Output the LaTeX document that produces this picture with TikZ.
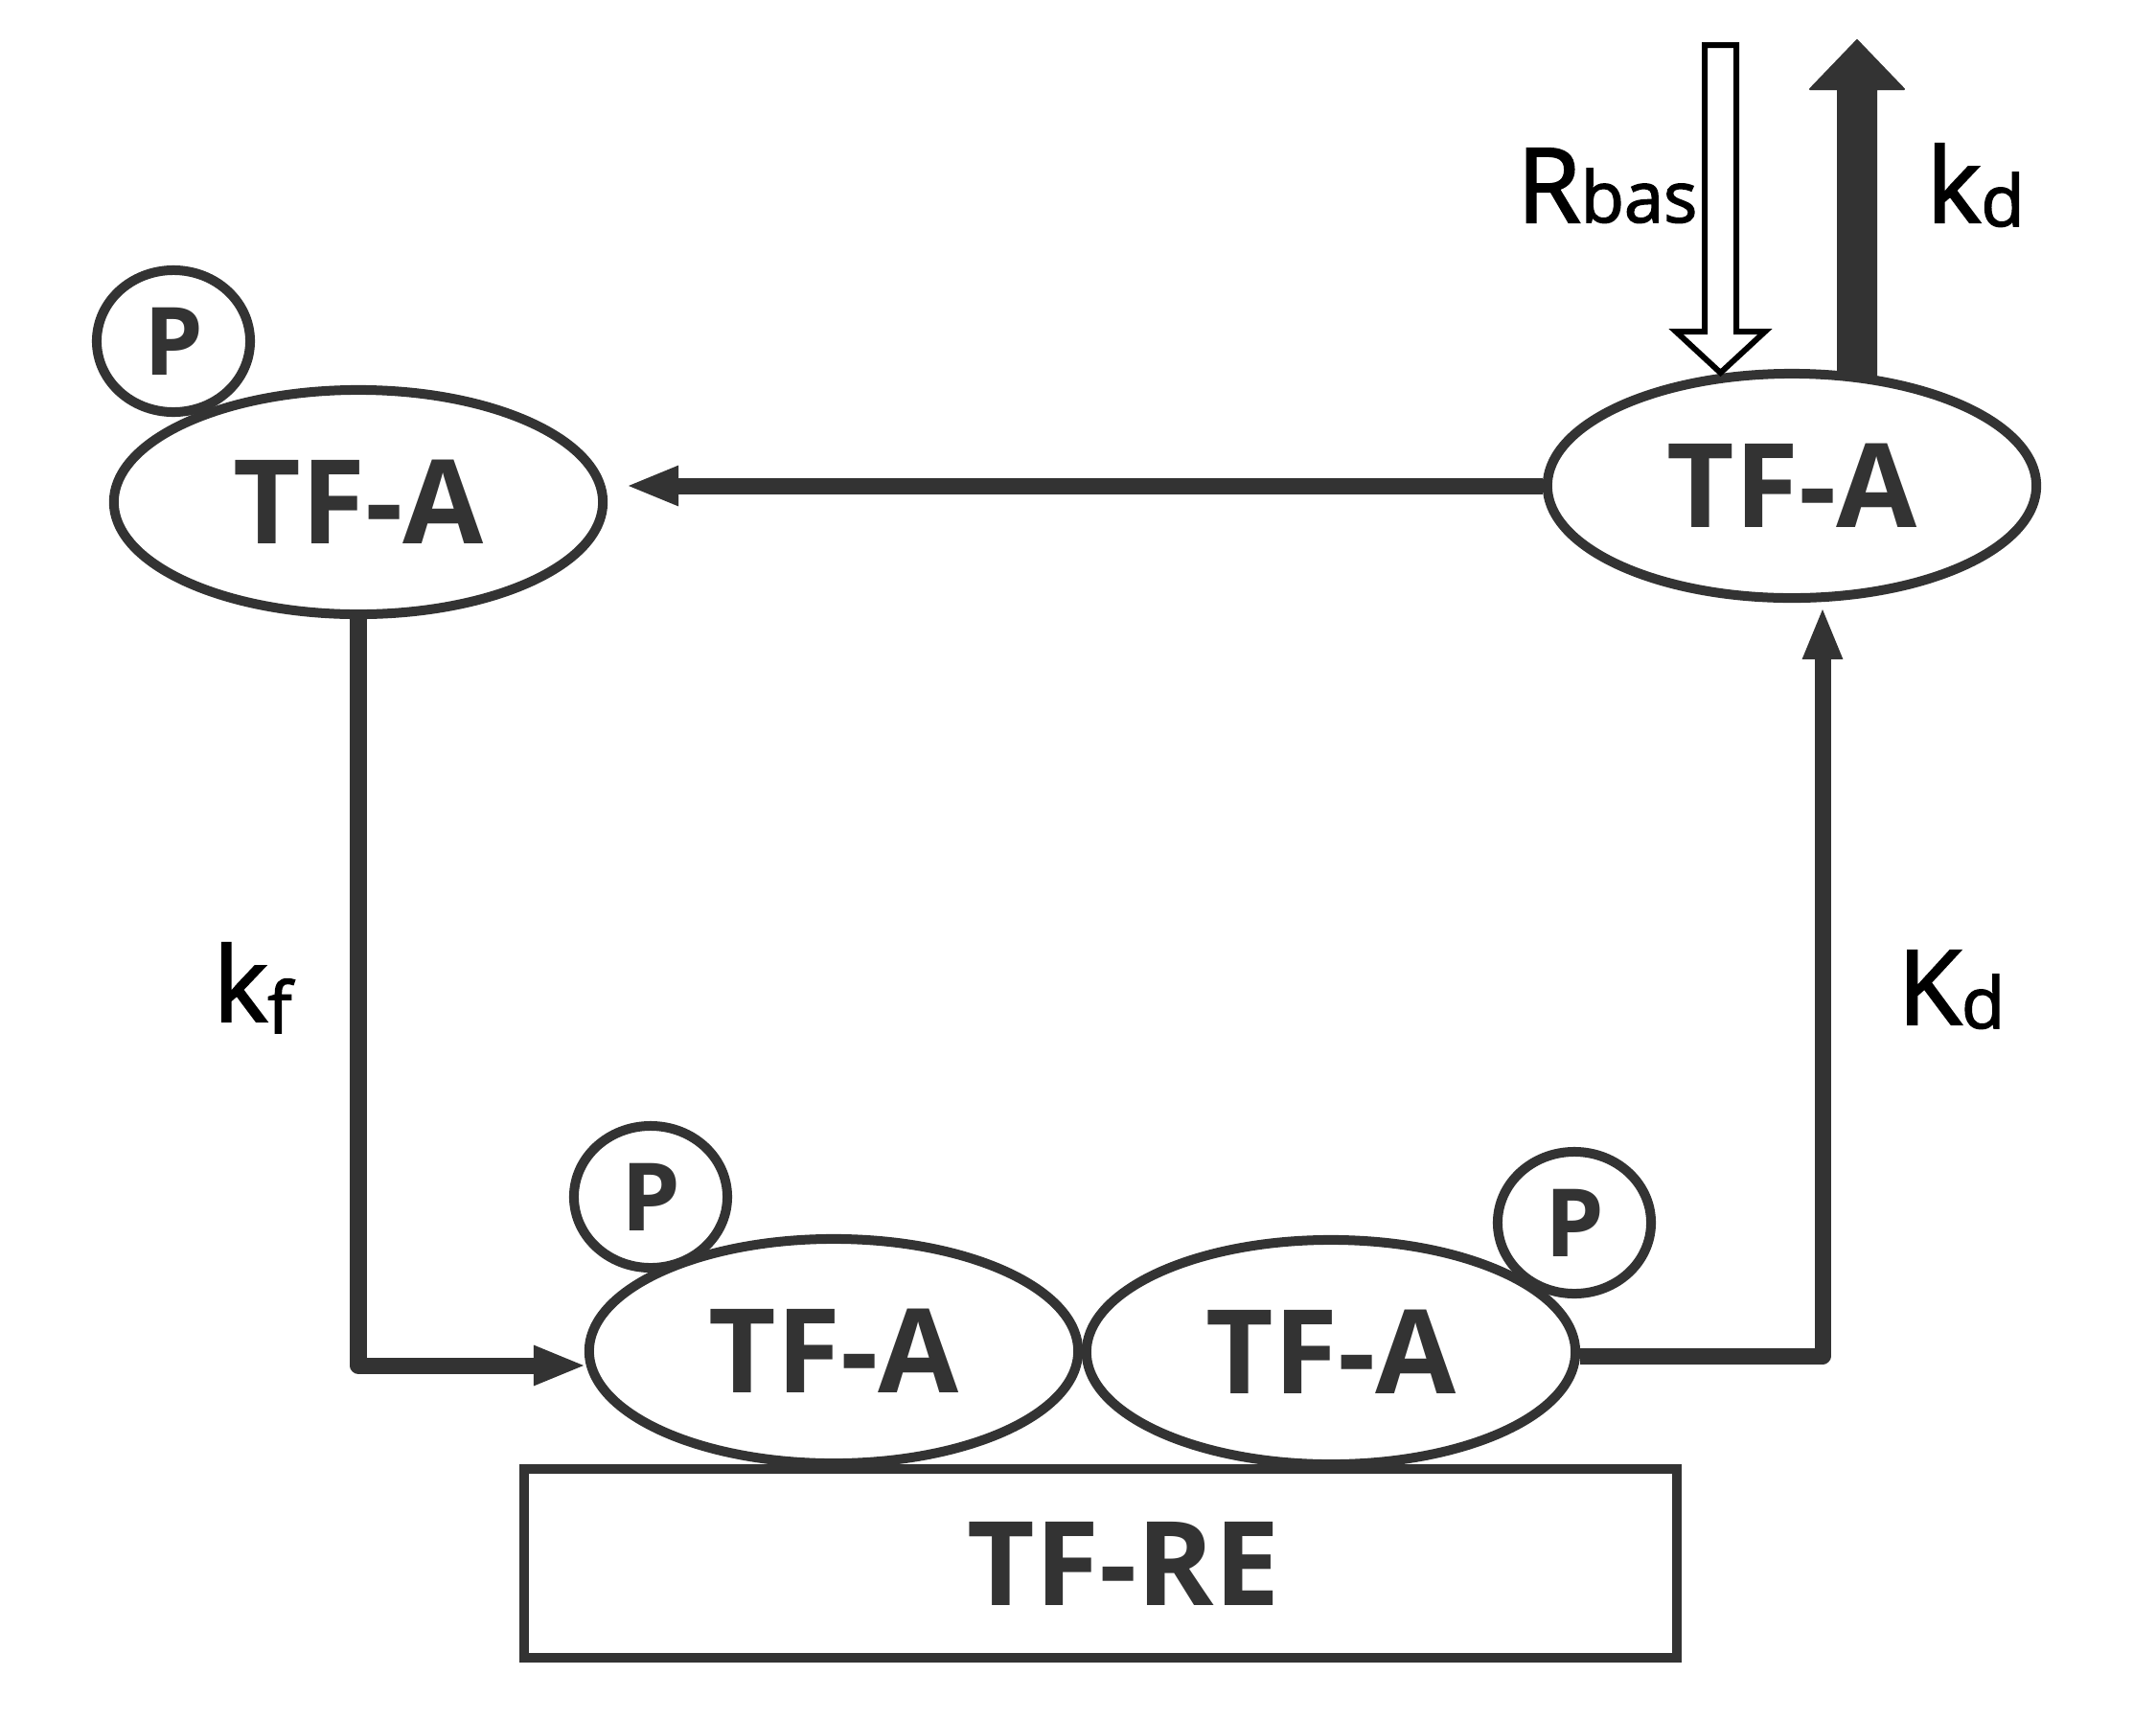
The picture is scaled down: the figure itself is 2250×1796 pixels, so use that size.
\documentclass[tikz,border=0pt]{standalone}
\usepackage{fontspec}
\setmainfont{Open Sans}
\newfontfamily\lblfont{Open Sans}[FakeBold=2]
\usetikzlibrary{shapes.geometric,arrows.meta}
\definecolor{ink}{HTML}{333333}
\begin{document}
\begin{tikzpicture}[x=0.01cm,y=-0.01cm,
  prot/.style={ellipse, draw=ink, line width=0.1cm, minimum width=5.1cm, minimum height=2.34cm, inner sep=0pt, text=ink, font=\fontsize{34.7}{36}\selectfont\bfseries},
  phos/.style={ellipse, draw=ink, line width=0.1cm, minimum width=1.6cm, minimum height=1.48cm, inner sep=0pt, text=ink, font=\fontsize{28}{30}\selectfont\bfseries},
  conn/.style={draw=ink, line width=0.17cm, line join=round},
  tipped/.style={-{Triangle[length=0.55cm,width=0.38cm]}},
  lbl/.style={inner sep=0pt, anchor=base west, font=\lblfont\fontsize{30.7}{32}\selectfont}
]
\useasboundingbox (0,0) rectangle (2250,1796);

% phosphate circles
\node[phos] (ptl) at (181,356) {P};
\node[phos] (pbl) at (679,1249) {P};
\node[phos] (pbr) at (1643,1276) {P};

% TF-A ellipses
\node[prot] (tl) at (374,524) {TF-A};
\node[prot] (tr) at (1870,507) {TF-A};
\node[prot] (bl) at (870,1410) {TF-A};
\node[prot] (br) at (1389,1411) {TF-A};

% response element
\node[draw=ink, line width=0.1cm, minimum width=12.03cm, minimum height=1.97cm, inner sep=0pt, text=ink, font=\fontsize{34.7}{36}\selectfont\bfseries] (re) at (1148.5,1631.5) {\hspace*{0.48cm}TF-RE};

% free ends
\coordinate (tlin) at (653,507);
\coordinate (blin) at (612,1425);
\coordinate (rc) at (1902,1415);
\coordinate (kdtip) at (1902,633);

% connectors
\draw[conn,tipped] (tr.west) -- (tlin);
\draw[conn,tipped] (tl.south) |- (blin);
\draw[conn,tipped] (br.east |- rc) -- (rc) -- (kdtip);

% hollow input arrow (Rbas)
\draw[black, line width=0.06cm, fill=white, line join=miter]
  (1779,47) -- (1812,47) -- (1812,346) -- (1842,346) -- (1795.5,389)
  -- (1749,346) -- (1779,346) -- cycle;

% thick output arrow (kd)
\filldraw[fill=ink, draw=ink, line width=0.02cm, line join=round]
  (1918,392) -- (1918,93) -- (1889,93) -- (1938,42) -- (1987,93)
  -- (1958,93) -- (1958,392) -- cycle;

% labels
\node[lbl, anchor=base east] (rbas) at (1772,232) {R{\fontsize{21}{22}\selectfont bas}};
\node[lbl] (kdout) at (2010,232) {k\raisebox{-0.04cm}{\fontsize{21}{22}\selectfont d}};
\node[lbl] (kf) at (222,1066) {k\raisebox{-0.12cm}{\fontsize{21}{22}\selectfont f}};
\node[lbl] (Kd) at (1980,1069) {K\raisebox{-0.04cm}{\fontsize{21}{22}\selectfont d}};
\end{tikzpicture}
\end{document}
